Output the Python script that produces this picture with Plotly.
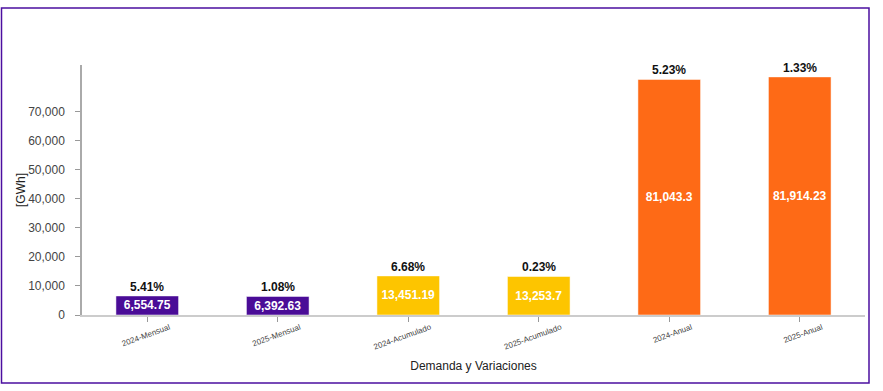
import plotly.graph_objects as go

categories = ["2024-Mensual", "2025-Mensual", "2024-Acumulado", "2025-Acumulado", "2024-Anual", "2025-Anual"]
values = [6554.75, 6392.63, 13451.19, 13253.7, 81043.3, 81914.23]
value_labels = ["6,554.75", "6,392.63", "13,451.19", "13,253.7", "81,043.3", "81,914.23"]
pct_labels = ["5.41%", "1.08%", "6.68%", "0.23%", "5.23%", "1.33%"]
colors = ["#4A0C97", "#4A0C97", "#FDC500", "#FDC500", "#FE6A16", "#FE6A16"]
y_tickvals = [0, 10000, 20000, 30000, 40000, 50000, 60000, 70000]
y_ticktext = ["0", "10,000", "20,000", "30,000", "40,000", "50,000", "60,000", "70,000"]

font_family = "Liberation Sans, Arial, sans-serif"

fig = go.Figure()
fig.add_trace(go.Bar(
    x=categories, y=values,
    marker=dict(color=colors, line=dict(color="rgba(255,255,255,0.5)", width=1)),
    text=["<b>%s</b>" % t for t in value_labels], textposition="inside", insidetextanchor="middle",
    textfont=dict(color="white", size=12, family=font_family),
    constraintext="none", cliponaxis=False,
    width=0.48, showlegend=False, hoverinfo="x+y",
))

for c, v, p in zip(categories, values, pct_labels):
    fig.add_annotation(x=c, y=v, text="<b>%s</b>" % p, showarrow=False,
                       yanchor="bottom", yshift=0,
                       font=dict(size=12, color="#111", family=font_family))

# outer frame (plot area: x 82..865, y 65..315 in page pixels)
fig.add_shape(type="rect", xref="paper", yref="paper",
              x0=(1.5 - 82) / 783, x1=(869 - 82) / 783,
              y0=(315 - 383) / 250, y1=(315 - 8) / 250,
              line=dict(color="#4B0FA0", width=1.5), layer="above")

fig.update_layout(
    width=883, height=391,
    margin=dict(l=82, r=18, t=65, b=76, autoexpand=False),
    paper_bgcolor="white", plot_bgcolor="white",
    font=dict(family=font_family, color="#333"),
    uniformtext=dict(mode="show", minsize=12),
    bargap=0.52,
    xaxis=dict(
        title=dict(text="Demanda y Variaciones", font=dict(size=12, color="#222"), standoff=11),
        tickangle=-20, tickfont=dict(size=8, color="#444"),
        ticklabelshift=22, ticklabelstandoff=-2,
        showline=True, linecolor="#cccccc", linewidth=1.5,
        ticks="outside", ticklen=5, tickcolor="#999",
        showgrid=False, automargin=False,
    ),
    yaxis=dict(
        title=dict(text="[GWh]", font=dict(size=12, color="#222"), standoff=0),
        range=[0, 86000], tickvals=y_tickvals, ticktext=y_ticktext,
        tickfont=dict(size=12, color="#444"), ticklabelstandoff=8,
        showline=True, linecolor="#aaaaaa", linewidth=1.5,
        ticks="outside", ticklen=5, tickcolor="#999",
        showgrid=False, zeroline=False, automargin=False,
    ),
)

fig.write_html("out.html", config={"displayModeBar": False},
               post_script="document.body.style.margin='0';document.body.style.overflow='hidden';")
